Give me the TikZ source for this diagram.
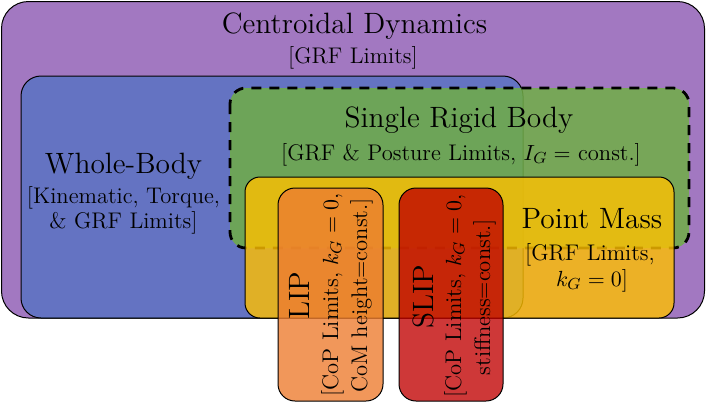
\documentclass[tikz,border=0pt]{standalone}
\definecolor{cdpurple}{HTML}{7030A0}
\definecolor{wbblue}{HTML}{4472C4}
\definecolor{srgreen}{HTML}{70AD47}
\definecolor{pmyellow}{HTML}{FFC000}
\definecolor{liporange}{HTML}{ED7D31}
\definecolor{slipred}{HTML}{C00000}
\begin{document}
\begin{tikzpicture}[x=0.5pt,y=-0.5pt,
  box/.style={draw=black, line width=0.5pt},
  ttl/.style={font=\fontsize{14.7}{17}\selectfont, inner sep=0pt, anchor=base},
  subl/.style={font=\fontsize{11.3}{13.5}\selectfont, inner sep=0pt, anchor=base},
  vert/.style={rotate=90}
]
\useasboundingbox (0,0) rectangle (706,403);
% boxes
\draw[box, fill=cdpurple, fill opacity=0.65, rounded corners=13.5pt] (1.5,1.5) rectangle (704.5,318);
\draw[box, fill=wbblue, fill opacity=0.65, rounded corners=10pt] (21,76) rectangle (523,318);
\draw[draw=black, line width=1.4pt, dash pattern=on 5pt off 4pt, fill=srgreen, fill opacity=0.86, rounded corners=8pt] (230,88) rectangle (689,248);
\draw[box, fill=pmyellow, fill opacity=0.8, rounded corners=7.5pt] (245,177) rectangle (674,318);
\draw[box, fill=liporange, fill opacity=0.8, rounded corners=8.5pt] (278,188) rectangle (383,401);
\draw[box, fill=slipred, fill opacity=0.78, rounded corners=8.5pt] (399,188) rectangle (503,401);
% texts
\node[ttl] (cdT) at (354.5,33) {Centroidal Dynamics};
\node[subl] (cdS) at (353,63) {[GRF Limits]};
\node[ttl] (wbT) at (123.5,173) {Whole-Body};
\node[subl] (wbS1) at (123.5,203) {[Kinematic, Torque,};
\node[subl] (wbS2) at (123.5,228) {\& GRF Limits]};
\node[ttl] (srT) at (459,127) {Single Rigid Body};
\node[subl] (srS) at (461,160) {[GRF \& Posture Limits, $I_G =$ const.]};
\node[ttl] (pmT) at (592,228) {Point Mass};
\node[subl] (pmS1) at (590,260) {[GRF Limits,};
\node[subl] (pmS2) at (592,286) {$k_G = 0$]};
\node[ttl, vert] (lipT) at (309,295.5) {LIP};
\node[subl, vert] (lipS1) at (338,295) {[CoP Limits, $k_G = 0$,};
\node[subl, vert] (lipS2) at (367,295.5) {CoM height=const.]};
\node[ttl, vert] (slT) at (433,297) {SLIP};
\node[subl, vert] (slS1) at (461,296) {[CoP Limits, $k_G = 0$,};
\node[subl, vert] (slS2) at (490,297) {stiffness=const.]};
\end{tikzpicture}
\end{document}
